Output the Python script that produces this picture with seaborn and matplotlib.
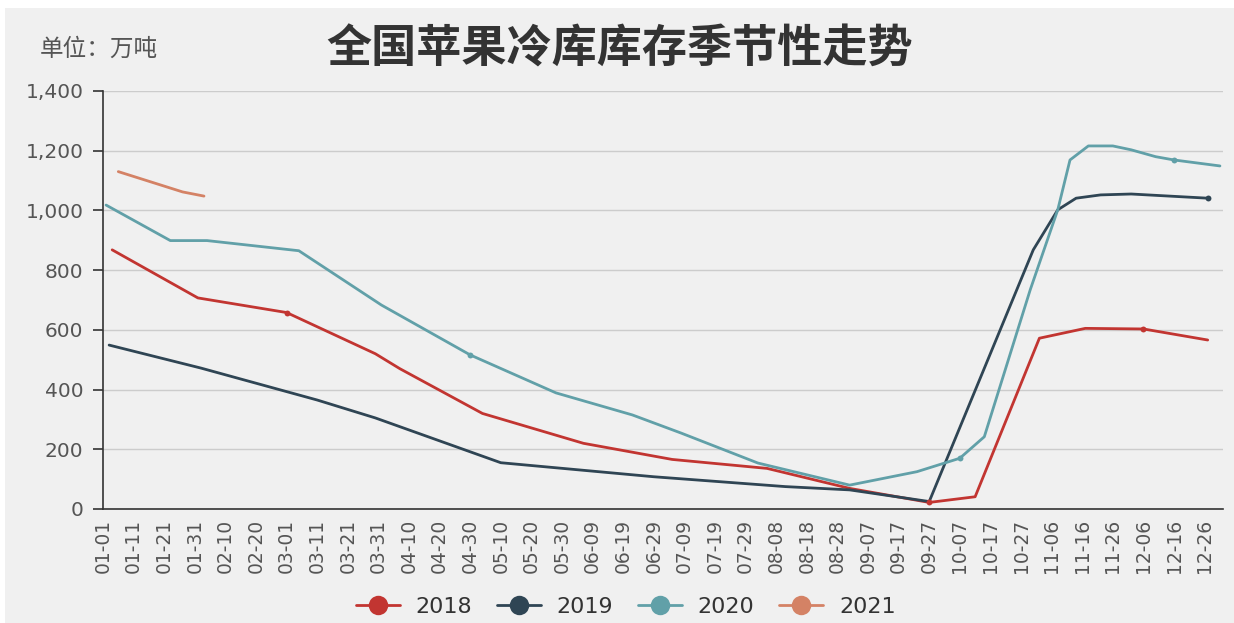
import pandas as pd
import matplotlib
matplotlib.use("Agg")
import matplotlib.pyplot as plt
import matplotlib.ticker as mticker
from matplotlib.lines import Line2D
from matplotlib.patches import Rectangle
import seaborn as sns

# ── Style ───────────────────────────────────────────────────────────────────
sns.set_theme(style="white")
plt.rcParams["font.family"] = ["Noto Sans CJK SC", "DejaVu Sans"]
BG = "#f0f0f0"

TITLE = "全国苹果冷库库存季节性走势"
UNIT = "单位：万吨"

X_LABELS = [
    "01-01", "01-11", "01-21", "01-31", "02-10", "02-20", "03-01", "03-11",
    "03-21", "03-31", "04-10", "04-20", "04-30", "05-10", "05-20", "05-30",
    "06-09", "06-19", "06-29", "07-09", "07-19", "07-29", "08-08", "08-18",
    "08-28", "09-07", "09-17", "09-27", "10-07", "10-17", "10-27", "11-06",
    "11-16", "11-26", "12-06", "12-16", "12-26",
]
Y_TICKS = [0, 200, 400, 600, 800, 1000, 1200, 1400]

# series (date, stock in 10k tons)
DATES_2018 = ["01-04", "02-01", "03-01", "03-30", "04-07", "05-04", "06-06", "07-05",
              "08-05", "09-01", "09-27", "10-12", "11-02", "11-17", "12-06", "12-27"]
VALS_2018 = [868, 707, 658, 520, 470, 320, 220, 166,
             136, 69, 22, 41, 572, 605, 603, 566]

DATES_2019 = ["01-03", "02-02", "03-11", "03-30", "05-10", "06-29", "08-11", "09-01",
              "09-27", "10-31", "11-08", "11-14", "11-22", "12-02", "12-27"]
VALS_2019 = [549, 472, 365, 305, 155, 108, 75, 64,
             25, 868, 1002, 1041, 1052, 1055, 1041]

DATES_2020 = ["01-02", "01-23", "02-04", "03-05", "04-01", "04-30", "05-28", "06-22",
              "07-08", "08-02", "09-01", "09-23", "10-07", "10-15", "10-30", "11-08",
              "11-12", "11-18", "11-26", "12-02", "12-10", "12-16", "12-31"]
VALS_2020 = [1018, 899, 899, 865, 683, 516, 389, 315,
             254, 154, 80, 125, 170, 242, 734, 1002,
             1169, 1216, 1216, 1203, 1180, 1169, 1149]

DATES_2021 = ["01-06", "01-27", "02-03"]
VALS_2021 = [1130, 1062, 1048]

# points where the source shows a small symbol
MARKS = {"2018": ["03-01", "09-27", "12-06"], "2019": ["12-27"],
         "2020": ["04-30", "10-07", "12-16"], "2021": []}

COLORS = {"2018": "#c23531", "2019": "#2f4554", "2020": "#61a0a8", "2021": "#d48265"}


def day_index(mmdd):
    # category axis uses every day of a leap year
    return pd.Timestamp("2020-" + mmdd).dayofyear - 1


rows = []
for year, dates, vals in [("2018", DATES_2018, VALS_2018), ("2019", DATES_2019, VALS_2019),
                          ("2020", DATES_2020, VALS_2020), ("2021", DATES_2021, VALS_2021)]:
    for d, v in zip(dates, vals):
        rows.append({"year": year, "date": d, "day": day_index(d), "value": v})
df = pd.DataFrame(rows)

fig = plt.figure(figsize=(12.34, 6.23), dpi=100, facecolor=BG)
# thin white strip on top / left like the screenshot
fig.patches.append(Rectangle((0, 1 - 8 / 623), 1, 8 / 623, transform=fig.transFigure,
                             facecolor="white", edgecolor="none", zorder=-1))
fig.patches.append(Rectangle((0, 0), 5 / 1234, 1, transform=fig.transFigure,
                             facecolor="white", edgecolor="none", zorder=-1))

ax = fig.add_axes([103 / 1234, 1 - 509 / 623, (1223 - 103) / 1234, (509 - 91) / 623])
ax.set_facecolor(BG)

sns.lineplot(data=df, x="day", y="value", hue="year", palette=COLORS,
             linewidth=2.0, ax=ax, legend=False, zorder=3)

for year, marks in MARKS.items():
    sub = df[(df["year"] == year) & (df["date"].isin(marks))]
    ax.scatter(sub["day"], sub["value"], s=18, color=COLORS[year], zorder=4, linewidths=0)

ax.set_xlim(0, 366)
ax.set_ylim(0, 1400)
ax.set_yticks(Y_TICKS)
ax.yaxis.set_major_formatter(mticker.StrMethodFormatter("{x:,.0f}"))
ax.yaxis.grid(True, color="#cccccc", linewidth=1)
ax.xaxis.grid(False)

ax.set_xticks([10 * i for i in range(len(X_LABELS))])
ax.set_xticklabels(X_LABELS, rotation=90, family="DejaVu Sans")
ax.set_xticks([10 * i + 6 for i in range(len(X_LABELS))], minor=True)
ax.tick_params(axis="x", which="major", length=0, pad=7, labelsize=13.5, labelcolor="#555555")
ax.tick_params(axis="x", which="minor", length=6, width=1.2, color="#333333", direction="out")
ax.tick_params(axis="y", length=7, width=1.2, color="#333333", labelsize=14.5,
               labelcolor="#555555", left=True, pad=7)
for lbl in ax.get_yticklabels():
    lbl.set_family("DejaVu Sans")
ax.set_xlabel("")
ax.set_ylabel("")

for side in ["top", "right"]:
    ax.spines[side].set_visible(False)
for side in ["left", "bottom"]:
    ax.spines[side].set_color("#333333")
    ax.spines[side].set_linewidth(1.2)

fig.text(0.502, 1 - 50 / 623, TITLE, ha="center", va="center", fontsize=32.5,
         fontweight="bold", color="#333333")
fig.text(40 / 1234, 1 - 49 / 623, UNIT, ha="left", va="center", fontsize=17, color="#555555")

handles = [Line2D([0], [0], color=COLORS[y], linewidth=2, marker="o", markersize=14,
                  markeredgewidth=0) for y in COLORS]
fig.legend(handles, list(COLORS), loc="center", bbox_to_anchor=(0.507, 1 - 607 / 623),
           ncol=4, frameon=False, handlelength=2.0, columnspacing=1.1,
           handletextpad=0.7, labelcolor="#333333",
           prop={"family": "DejaVu Sans", "size": 16})

plt.savefig("out.png", dpi=100, facecolor=fig.get_facecolor())
plt.close()
